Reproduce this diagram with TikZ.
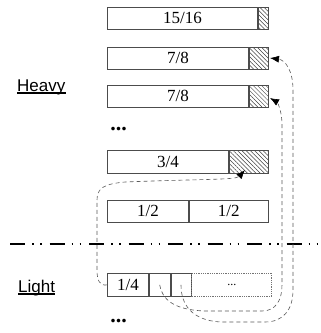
\documentclass[tikz,border=0pt]{standalone}
\usepackage{fontspec}
\setmainfont{Liberation Serif}
\newfontfamily\labfont{Liberation Sans}
\usetikzlibrary{patterns.meta,arrows.meta,calc}
\begin{document}
\begin{tikzpicture}[x=1pt,y=-1pt,
  bx/.style={draw=black!70, line width=0.8pt, inner sep=0pt, minimum height=22pt,
    font=\fontsize{17}{17}\selectfont, anchor=north west, fill=white},
  hatchbx/.style={draw=black!70, line width=0.8pt, inner sep=0pt, minimum height=22pt,
    anchor=north west, pattern={Lines[angle=-45,distance=3pt,line width=0.5pt]},
    pattern color=black!75},
  dotbx/.style={draw=black!55, densely dotted, line width=0.8pt, inner sep=0pt,
    minimum height=22pt, anchor=north west, font=\fontsize{12}{12}\selectfont},
  lab/.style={font=\labfont\fontsize{17}{17}\selectfont, inner sep=0pt, anchor=base west},
  ulin/.style={line width=1.1pt},
  dots/.style={font=\bfseries\fontsize{22}{22}\selectfont, inner sep=0pt, anchor=base},
  sep/.style={line width=1.9pt, dash pattern=on 15pt off 7pt on 1.5pt off 6.5pt on 1.5pt off 8pt},
  conn/.style={draw=black!65, line width=0.6pt, dash pattern=on 4pt off 3pt,
    -{Latex[length=9pt,width=7pt,black]}}
]
\useasboundingbox (0,0) rectangle (321,333);

% Heavy boxes
\node[bx, minimum width=150pt] (b1) at (107,7) {15/16};
\node[hatchbx, minimum width=10pt] (h1) at (b1.north east) {};
\node[bx, minimum width=141pt] (b2) at (107,47) {7/8};
\node[hatchbx, minimum width=19pt] (h2) at (b2.north east) {};
\node[bx, minimum width=141pt] (b3) at (107,85) {7/8};
\node[hatchbx, minimum width=19pt] (h3) at (b3.north east) {};
\node[dots] (hd) at (118.5,130) {...};
\node[bx, minimum width=121pt, minimum height=23pt] (b4) at (107,150) {3/4};
\node[hatchbx, minimum width=39pt, minimum height=23pt] (h4) at (b4.north east) {};
\node[bx, minimum width=81pt] (b5) at (107,200) {1/2};
\node[bx, minimum width=79pt] (b6) at (b5.north east) {1/2};

% labels
\node[lab] (hv) at (17,91) {Heavy};
\draw[ulin] ([yshift=-2pt]hv.base west) -- ([yshift=-2pt]hv.base east);
\node[lab] (lt) at (18,292) {Light};
\draw[ulin] ([yshift=-2pt]lt.base west) -- ([yshift=-2pt]lt.base east);

% separator
\coordinate (sepL) at (10,244);
\coordinate (sepR) at (321,244);
\draw[sep] (sepL) -- (sepR);

% Light boxes
\node[bx, minimum width=41pt, minimum height=23pt] (l1) at (107,273) {1/4};
\node[bx, minimum width=21pt, minimum height=23pt] (l2) at (l1.north east) {};
\node[bx, minimum width=20pt, minimum height=23pt] (l3) at (l2.north east) {};
\node[dotbx, minimum width=80pt, minimum height=23pt] (ld) at (l3.north east) {...};
\node[dots] (bd) at (118.5,322) {...};

% arrow targets
\coordinate (t1) at (245,170);
\coordinate (t2) at (270,58);
\coordinate (t3) at (270,98);

% connectors
\draw[conn] (l1.west) .. controls (100,286) and (97,281) .. (97,270) -- (97,200)
  .. controls (97,188) and (104,184) .. (125,182) .. controls (200,179) and (236,180) .. (t1);
\draw[conn] (l2.center) .. controls (162,300) and (175,310) .. (205,311) -- (262,311)
  .. controls (276,311) and (282,300) .. (282,285) -- (282,125)
  .. controls (282,110) and (277,102) .. (t3);
\draw[conn] (l3.center) .. controls (181,305) and (192,320) .. (220,322) -- (265,322)
  .. controls (283,322) and (293,310) .. (293,290) -- (293,90)
  .. controls (293,70) and (285,60) .. (t2);
\end{tikzpicture}
\end{document}
